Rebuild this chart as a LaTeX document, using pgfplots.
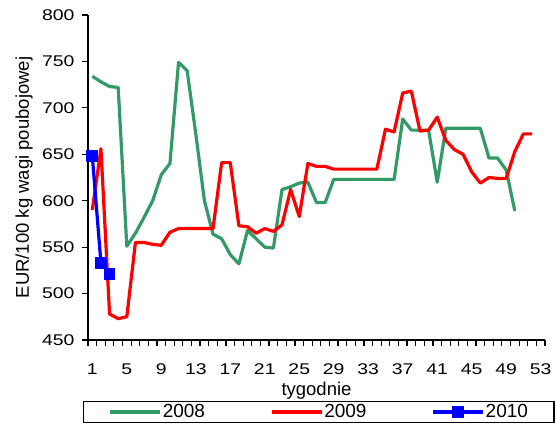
\documentclass[border=0pt]{standalone}
\usepackage{pgfplots}
\pgfplotsset{compat=1.18}
\usepackage{fontspec}
\setmainfont{Liberation Sans}
\newfontfamily\widefont[FakeStretch=1.25]{Liberation Sans}
\definecolor{g08}{RGB}{51,153,102}

\begin{document}
\begin{tikzpicture}
\begin{axis}[
  scale only axis, width=457pt, height=325pt,
  xmin=0.5, xmax=53.5, ymin=450, ymax=800,
  axis x line=bottom, axis y line=left,
  axis line style={-, line width=1.2pt},
  tick align=outside, tick style={black, line width=1.2pt},
  major tick length=6pt,
  xtick={0.5,1.5,...,53.5}, xticklabels={},
  extra x ticks={1,5,...,53},
  extra x tick labels={1,5,9,13,17,21,25,29,33,37,41,45,49,53},
  extra x tick style={major tick length=0pt,
    xticklabel style={anchor=base, yshift=-35pt}},
  ytick={450,500,...,800},
  tick label style={font=\widefont\fontsize{15.5}{18}\selectfont},
  yticklabel style={xshift=-4pt},
  /pgf/number format/assume math mode=true,
  /pgf/number format/1000 sep={},
  xlabel={tygodnie},
  ylabel={EUR/100 kg wagi poubojowej},
  every axis x label/.style={at={(rel axis cs:0.5,0)}, anchor=base,
    yshift=-56pt, font=\fontsize{18.5}{22}\selectfont},
  every axis y label/.style={at={(rel axis cs:0,0.5)}, xshift=-64pt,
    rotate=90, anchor=center, font=\fontsize{18.5}{22}\selectfont},
  legend columns=3,
  legend style={at={(0.505,-0.188)}, anchor=north, draw=black, line width=1.2pt,
    font=\fontsize{19}{22}\selectfont, inner xsep=25pt, inner ysep=1pt,
    nodes={inner xsep=1pt, inner ysep=2pt},
    /tikz/every even column/.append style={column sep=64pt}},
  legend image code/.code={\draw[mark repeat=2, mark phase=2, #1]
    plot coordinates {(0pt,0pt)(25pt,0pt)(50pt,0pt)};},
]
\addplot[g08, line width=3.2pt, line join=round] coordinates {
(1,734)(2,728)(3,723)(4,722)(5,551)(6,565)(7,582)(8,600)(9,628)(10,640)
(11,749)(12,740)(13,672)(14,600)(15,564)(16,559)(17,542)(18,532)(19,568)(20,559)
(21,550)(22,549)(23,612)(24,615)(25,619)(26,620)(27,598)(28,598)(29,623)(30,623)
(31,623)(32,623)(33,623)(34,623)(35,623)(36,623)(37,688)(38,676)(39,676)(40,676)
(41,620)(42,678)(43,678)(44,678)(45,678)(46,678)(47,646)(48,646)(49,633)(50,589)
};
\addlegendentry{2008}
\addplot[red, line width=3.2pt, line join=round] coordinates {
(1,590)(2,656)(3,478)(4,473)(5,475)(6,555)(7,555)(8,553)(9,552)(10,566)
(11,570)(12,570)(13,570)(14,570)(15,570)(16,641)(17,641)(18,573)(19,572)(20,565)
(21,570)(22,567)(23,574)(24,612)(25,583)(26,640)(27,637)(28,637)(29,634)(30,634)
(31,634)(32,634)(33,634)(34,634)(35,677)(36,674)(37,716)(38,718)(39,675)(40,676)
(41,690)(42,665)(43,655)(44,650)(45,631)(46,619)(47,625)(48,624)(49,624)(50,653)
(51,672)(52,672)
};
\addlegendentry{2009}
\addplot[blue, line width=3.2pt, line join=round, mark=square*, mark size=5.4pt,
  mark options={solid, line width=1pt}] coordinates {
(1,648)(2,533)(3,521)
};
\addlegendentry{2010}
\coordinate (O) at (rel axis cs:0,0);
\end{axis}
\path (O) ++(-88pt,-90pt) rectangle ++(556pt,430pt);
\end{tikzpicture}
\end{document}
